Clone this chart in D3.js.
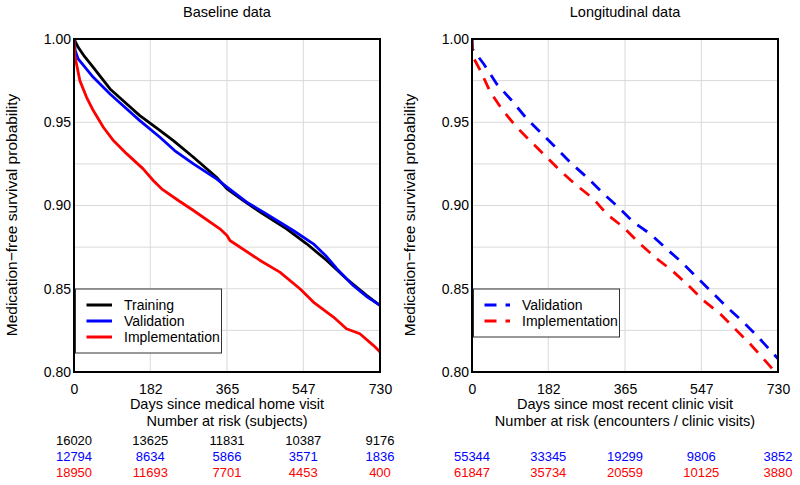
<!DOCTYPE html>
<html>
<head>
<meta charset="utf-8">
<script src="https://cdn.jsdelivr.net/npm/d3@7"></script>
<style>
  body { margin: 0; background: #fff; }
  svg { font-family: "Liberation Sans", Arial, sans-serif; }
</style>
</head>
<body>
<svg id="chart" width="800" height="485"></svg>
<script>
// ---- data ----
let dayTicks = [0, 182, 365, 547, 730]
let survTicks = [0.80, 0.85, 0.90, 0.95, 1.00]
let gridY = [0.80, 0.825, 0.85, 0.875, 0.90, 0.925, 0.95, 0.975, 1.00]

// baseline data (left)
let trainDays = [0, 10, 25, 46, 86, 126, 157, 200, 237, 285, 340, 365, 404, 444, 507, 555, 603, 650, 698, 730]
let trainSurv = [1.0, 0.995, 0.9895, 0.983, 0.970, 0.961, 0.954, 0.946, 0.939, 0.929, 0.917, 0.910, 0.903, 0.896, 0.886, 0.877, 0.867, 0.856, 0.846, 0.840]

let validDays = [0, 3, 10, 46, 86, 126, 157, 205, 240, 285, 340, 365, 412, 452, 523, 571, 600, 627, 666, 700, 730]
let validSurv = [1.0, 0.993, 0.988, 0.977, 0.967, 0.958, 0.951, 0.941, 0.933, 0.925, 0.916, 0.911, 0.902, 0.896, 0.885, 0.877, 0.870, 0.862, 0.852, 0.845, 0.840]

let implDays = [0, 2, 6, 14, 30, 46, 70, 94, 126, 165, 189, 209, 249, 285, 348, 365, 372, 444, 491, 539, 571, 619, 650, 682, 714, 726, 730]
let implSurv = [1.0, 0.990, 0.985, 0.975, 0.965, 0.957, 0.947, 0.939, 0.931, 0.922, 0.915, 0.910, 0.903, 0.897, 0.886, 0.882, 0.879, 0.867, 0.860, 0.850, 0.842, 0.833, 0.826, 0.823, 0.816, 0.813, 0.812]

// longitudinal data (right)
let longValidDays = [0, 1, 28, 59, 95, 131, 163, 203, 238, 274, 314, 349, 385, 425, 464, 500, 536, 572, 608, 643, 679, 719, 730]
let longValidSurv = [1.0, 0.994, 0.985, 0.973, 0.963, 0.952, 0.944, 0.934, 0.925, 0.917, 0.907, 0.899, 0.890, 0.883, 0.874, 0.866, 0.857, 0.848, 0.839, 0.831, 0.822, 0.811, 0.808]

let longImplDays = [0, 1, 20, 44, 71, 103, 138, 174, 210, 250, 290, 321, 361, 401, 441, 477, 516, 552, 592, 631, 663, 695, 727, 730]
let longImplSurv = [1.0, 0.990, 0.981, 0.968, 0.958, 0.948, 0.939, 0.930, 0.921, 0.912, 0.904, 0.895, 0.887, 0.877, 0.868, 0.861, 0.852, 0.843, 0.835, 0.825, 0.817, 0.808, 0.799, 0.798]

// number at risk
let riskTrain = [16020, 13625, 11831, 10387, 9176]
let riskValid = [12794, 8634, 5866, 3571, 1836]
let riskImpl = [18950, 11693, 7701, 4453, 400]
let riskLongValid = [55344, 33345, 19299, 9806, 3852]
let riskLongImpl = [61847, 35734, 20559, 10125, 3880]

let svg = d3.select("#chart")
let plotTop = 39, plotBottom = 372

function zip(days, surv) {
    return days.map((d, i) => ({ day: d, s: surv[i] }))
}

function drawPanel(opts) {
    let g = svg.append('g')
    let x = d3.scaleLinear().domain([0, 730]).range([opts.left, opts.right])
    let y = d3.scaleLinear().domain([0.80, 1.00]).range([plotBottom, plotTop])

    // title
    g.append('text')
        .attr('x', (opts.left + opts.right) / 2)
        .attr('y', 17)
        .attr('text-anchor', 'middle')
        .style('font-size', '14.5px')
        .text(opts.title)

    // grid
    g.selectAll('.gx')
        .data(dayTicks)
        .enter()
        .append('line')
        .attr('x1', d => x(d)).attr('x2', d => x(d))
        .attr('y1', plotTop).attr('y2', plotBottom)
        .attr('stroke', '#d9d9d9')
        .attr('stroke-width', 1)
    g.selectAll('.gy')
        .data(gridY)
        .enter()
        .append('line')
        .attr('x1', opts.left).attr('x2', opts.right)
        .attr('y1', d => y(d)).attr('y2', d => y(d))
        .attr('stroke', '#d9d9d9')
        .attr('stroke-width', 1)

    // axes
    let yAxis = g.append('g')
        .attr('transform', `translate(${opts.left},0)`)
        .call(d3.axisLeft(y).tickValues(survTicks).tickFormat(d3.format('.2f')).tickSize(0).tickPadding(3))
    yAxis.select('.domain').remove()
    yAxis.selectAll('text').style('font-size', '14px').attr('fill', '#000')
    yAxis.attr('font-family', null)

    let xAxis = g.append('g')
        .attr('transform', `translate(0,${plotBottom})`)
        .call(d3.axisBottom(x).tickValues(dayTicks).tickFormat(d3.format('d')).tickSize(0).tickPadding(12))
    xAxis.select('.domain').remove()
    xAxis.selectAll('text').style('font-size', '14px').attr('fill', '#000')
    xAxis.attr('font-family', null)

    // axis titles
    g.append('text')
        .attr('transform', `translate(${opts.ytitleX},215) rotate(-90)`)
        .attr('text-anchor', 'middle')
        .attr('dy', '0.35em')
        .style('font-size', '15.5px')
        .text('Medication\u2212free survival probability')
    g.append('text')
        .attr('x', (opts.left + opts.right) / 2)
        .attr('y', 409)
        .attr('text-anchor', 'middle')
        .style('font-size', '14.5px')
        .text(opts.xtitle)
    g.append('text')
        .attr('x', (opts.left + opts.right) / 2)
        .attr('y', 425.5)
        .attr('text-anchor', 'middle')
        .style('font-size', '14.5px')
        .text(opts.risktitle)

    // curves
    let clipId = 'clip' + opts.left
    svg.append('clipPath').attr('id', clipId)
        .append('rect')
        .attr('x', opts.left).attr('y', plotTop - 2)
        .attr('width', opts.right - opts.left).attr('height', plotBottom - plotTop + 2)
    let line = d3.line().x(d => x(d.day)).y(d => y(d.s))
    opts.series.forEach(s => {
        g.append('path')
            .datum(zip(s.days, s.surv))
            .attr('clip-path', `url(#${clipId})`)
            .attr('d', line)
            .attr('fill', 'none')
            .attr('stroke', s.color)
            .attr('stroke-width', 2.8)
            .attr('stroke-dasharray', opts.dash)
            .attr('stroke-linejoin', 'round')
    })

    // frame
    g.append('rect')
        .attr('x', opts.left).attr('y', plotTop)
        .attr('width', opts.right - opts.left).attr('height', plotBottom - plotTop)
        .attr('fill', 'none')
        .attr('stroke', '#000')
        .attr('stroke-width', 2)

    // legend
    let lg = g.append('g')
    lg.append('rect')
        .attr('x', opts.left + 1.5).attr('y', 289)
        .attr('width', opts.legendW).attr('height', opts.series.length * 16 + 16)
        .attr('fill', '#fff')
        .attr('stroke', '#333')
        .attr('stroke-width', 1)
    opts.series.forEach((s, i) => {
        let ly = 305 + i * 16
        lg.append('line')
            .attr('x1', opts.left + 12.5).attr('x2', opts.left + 38)
            .attr('y1', ly).attr('y2', ly)
            .attr('stroke', s.color)
            .attr('stroke-width', 3)
            .attr('stroke-dasharray', opts.dash)
        lg.append('text')
            .attr('x', opts.left + 50)
            .attr('y', ly)
            .attr('dy', '0.36em')
            .style('font-size', '14px')
            .text(s.name)
    })

    // number at risk
    opts.risk.forEach((r, i) => {
        if (!r.values) return
        g.selectAll('.risk' + i)
            .data(r.values)
            .enter()
            .append('text')
            .attr('x', (d, j) => x(dayTicks[j]))
            .attr('y', 444.5 + i * 16.2)
            .attr('text-anchor', 'middle')
            .attr('fill', r.color)
            .style('font-size', '13px')
            .text(d => d)
    })
}

drawPanel({
    left: 74, right: 380, ytitleX: 12,
    title: 'Baseline data',
    xtitle: 'Days since medical home visit',
    risktitle: 'Number at risk (subjects)',
    dash: null,
    legendW: 146,
    series: [
        { name: 'Training', days: trainDays, surv: trainSurv, color: '#000' },
        { name: 'Validation', days: validDays, surv: validSurv, color: '#0000ff' },
        { name: 'Implementation', days: implDays, surv: implSurv, color: '#ff0000' }
    ],
    risk: [
        { values: riskTrain, color: '#000' },
        { values: riskValid, color: '#0000ff' },
        { values: riskImpl, color: '#ff0000' }
    ]
})

drawPanel({
    left: 472, right: 778, ytitleX: 410,
    title: 'Longitudinal data',
    xtitle: 'Days since most recent clinic visit',
    risktitle: 'Number at risk (encounters / clinic visits)',
    dash: '12,9',
    legendW: 146,
    series: [
        { name: 'Validation', days: longValidDays, surv: longValidSurv, color: '#0000ff' },
        { name: 'Implementation', days: longImplDays, surv: longImplSurv, color: '#ff0000' }
    ],
    risk: [
        { values: null },
        { values: riskLongValid, color: '#0000ff' },
        { values: riskLongImpl, color: '#ff0000' }
    ]
})
</script>
</body>
</html>
